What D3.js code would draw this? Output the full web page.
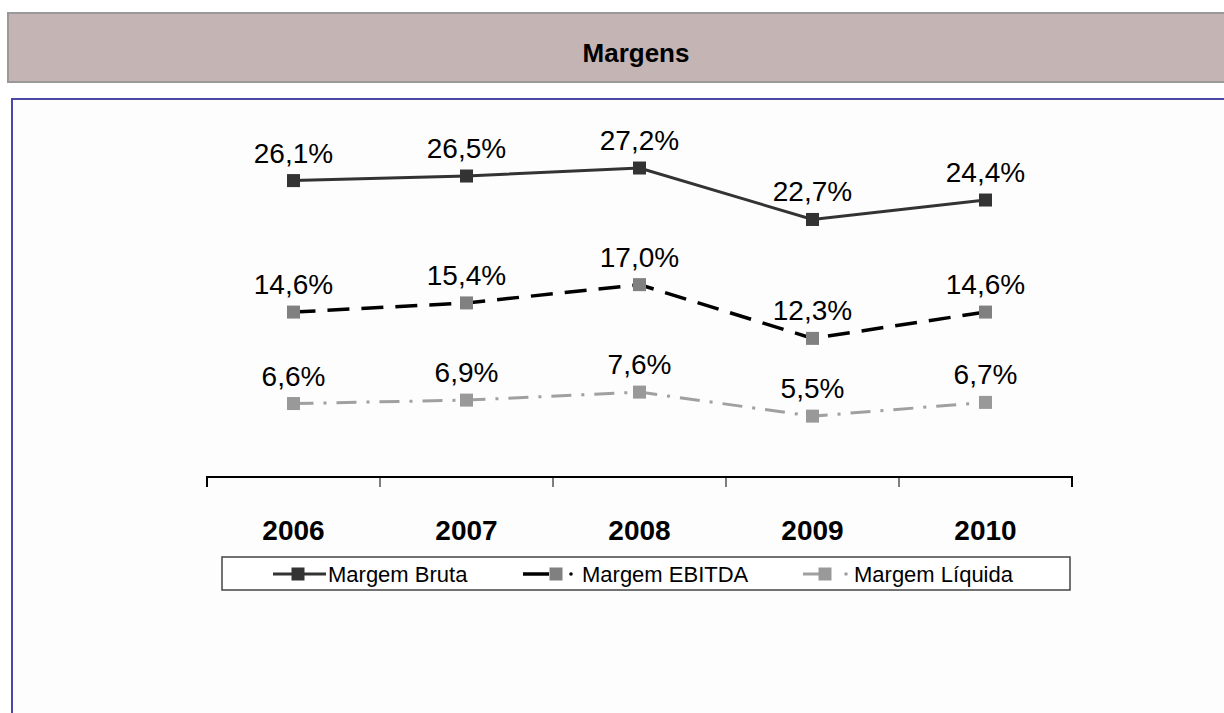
<!DOCTYPE html>
<html>
<head>
<meta charset="utf-8">
<script src="https://cdn.jsdelivr.net/npm/d3@7"></script>
<style>
    body { margin: 0; background: #fff; font-family: Arial, "Liberation Sans", sans-serif; }
    svg { display: block; }
</style>
</head>
<body>
<script>
// data
let years = ['2006', '2007', '2008', '2009', '2010'];
let margemBruta = [26.1, 26.5, 27.2, 22.7, 24.4];
let margemEbitda = [14.6, 15.4, 17.0, 12.3, 14.6];
let margemLiquida = [6.6, 6.9, 7.6, 5.5, 6.7];
let seriesNames = ['Margem Bruta', 'Margem EBITDA', 'Margem Líquida'];

function MarginsChart(container = 'body', width = 1224, height = 713){

    let margins = {top: 136, left: 207, right: 152, bottom: 234};

    let svg = d3.select(container).append('svg')
        .attr('width', width)
        .attr('height', height);

    // title band
    svg.append('rect')
        .attr('x', 8).attr('y', 13)
        .attr('width', width).attr('height', 69)
        .attr('fill', '#c5b4b4')
        .attr('stroke', '#999')
        .attr('stroke-width', 2);
    svg.append('text')
        .attr('x', 636).attr('y', 62)
        .attr('text-anchor', 'middle')
        .style('font-size', '26px')
        .style('font-weight', 'bold')
        .text('Margens');

    // chart frame
    svg.append('rect')
        .attr('x', 12).attr('y', 99)
        .attr('width', width).attr('height', height)
        .attr('fill', '#fdfdfd')
        .attr('stroke', '#4a4aa6')
        .attr('stroke-width', 2);

    let xScale = d3.scaleBand()
        .domain(years)
        .range([margins.left, width - margins.right]);
    let yScale = d3.scaleLinear()
        .domain([0, 30])
        .range([height - margins.bottom, margins.top]);

    // axis sits a little above the zero line, as in the picture
    let xAxis = svg.append('g')
        .attr('transform', `translate(0,${yScale(0) - 2})`)
        .call(d3.axisBottom(xScale).tickSize(0).tickPadding(43));
    xAxis.select('.domain')
        .attr('d', `M${margins.left},10V0H${width - margins.right}V10`)
        .attr('stroke', '#000')
        .attr('stroke-width', 2);
    xAxis.selectAll('.tick text')
        .style('font-family', 'Arial, "Liberation Sans", sans-serif')
        .style('font-size', '28px')
        .style('font-weight', 'bold')
        .attr('fill', '#000');
    // category separators
    xAxis.selectAll('line.sep')
        .data(years.slice(1))
        .enter().append('line')
        .classed('sep', true)
        .attr('x1', d=>xScale(d)).attr('x2', d=>xScale(d))
        .attr('y1', 0).attr('y2', 10)
        .attr('stroke', '#000')
        .attr('stroke-width', 1);

    let styles = [
        {values: margemBruta, line: '#333', dash: null, width: 3, marker: '#333'},
        {values: margemEbitda, line: '#000', dash: '22,12', width: 3.5, marker: '#808080'},
        {values: margemLiquida, line: '#a0a0a0', dash: '20,10,3,10', width: 3, marker: '#999'}
    ];

    let cx = d=>xScale(d.year) + xScale.bandwidth() / 2;
    let line = d3.line()
        .x(cx)
        .y(d=>yScale(d.value));

    styles.forEach(s=>{
        let pts = s.values.map((v, i)=>{return {year: years[i], value: v}});
        let g = svg.append('g');
        g.append('path')
            .datum(pts)
            .attr('d', line)
            .attr('fill', 'none')
            .attr('stroke', s.line)
            .attr('stroke-width', s.width)
            .attr('stroke-dasharray', s.dash);
        g.selectAll('rect')
            .data(pts)
            .enter().append('rect')
            .attr('x', d=>cx(d) - 6.5)
            .attr('y', d=>yScale(d.value) - 6.5)
            .attr('width', 13).attr('height', 13)
            .attr('fill', s.marker);
        g.selectAll('text')
            .data(pts)
            .enter().append('text')
            .attr('x', cx)
            .attr('y', d=>yScale(d.value) - 18)
            .attr('text-anchor', 'middle')
            .style('font-size', '28px')
            .text(d=>d.value.toFixed(1).replace('.', ',') + '%');
    });

    // legend
    let legend = svg.append('g');
    legend.append('rect')
        .attr('x', 222).attr('y', 557)
        .attr('width', 848).attr('height', 33)
        .attr('fill', '#fff')
        .attr('stroke', '#444')
        .attr('stroke-width', 1.5);
    let lineStart = [273, 523, 803],
        lineEnd = [326, 549, 819],
        markerX = [298, 556, 825],
        dotX = [null, 571, 846],
        textX = [328, 582, 854];
    styles.forEach((s, i)=>{
        let y0 = 574;
        let item = legend.append('g');
        item.append('line')
            .attr('x1', lineStart[i]).attr('x2', lineEnd[i])
            .attr('y1', y0).attr('y2', y0)
            .attr('stroke', s.line).attr('stroke-width', s.width);
        item.append('rect')
            .attr('x', markerX[i] - 6.5).attr('y', y0 - 6.5)
            .attr('width', 13).attr('height', 13)
            .attr('fill', s.marker);
        if(dotX[i] !== null){
            item.append('circle')
                .attr('cx', dotX[i]).attr('cy', y0)
                .attr('r', 1.8)
                .attr('fill', s.line);
        }
        item.append('text')
            .attr('x', textX[i])
            .attr('y', y0 + 8)
            .style('font-size', '22px')
            .text(seriesNames[i]);
    });

    return svg;
}

MarginsChart('body', 1224, 713);
</script>
</body>
</html>
